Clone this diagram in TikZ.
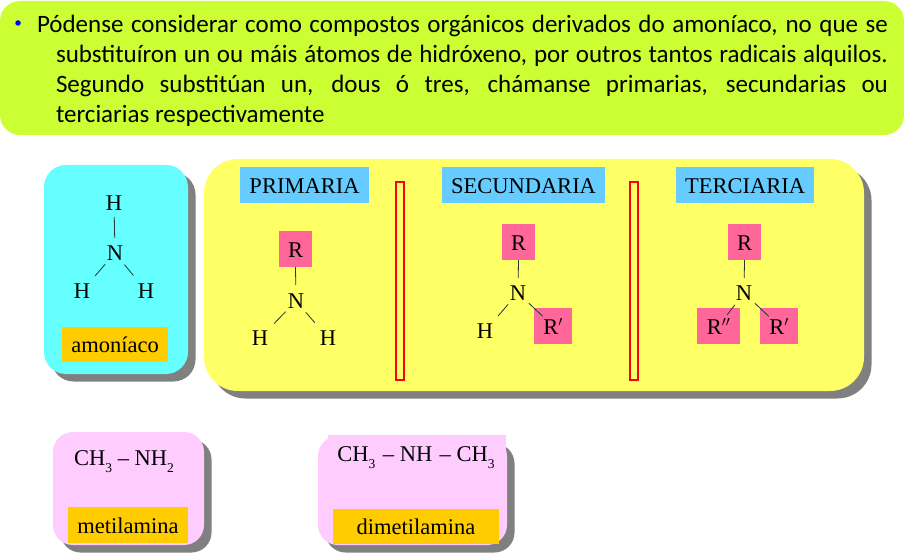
\documentclass[tikz,border=0pt]{standalone}
\usepackage{fontspec}
\setmainfont{Liberation Serif}
\newfontfamily\bodyfont{Carlito}
\usetikzlibrary{shadows}
\definecolor{limeC}{HTML}{CCFF33}
\definecolor{cyanC}{HTML}{66FFFF}
\definecolor{yellowC}{HTML}{FFFF66}
\definecolor{blueC}{HTML}{66CCFF}
\definecolor{pinkC}{HTML}{FF6699}
\definecolor{lilacC}{HTML}{FFCCFF}
\definecolor{orangeC}{HTML}{FFCC00}
\definecolor{shadowC}{HTML}{808080}
\definecolor{bondC}{HTML}{203838}
\newcommand{\subs}[1]{\raisebox{-0.32em}{\fontsize{13.5}{14}\selectfont #1}}
\tikzset{
  x=1pt,y=-1pt,
  every node/.style={inner sep=0pt,outer sep=0pt,font=\fontsize{22.5}{24}\selectfont},
  panel/.style={rectangle,fill=#1,general shadow={fill=shadowC,shadow xshift=7.5pt,shadow yshift=-7.5pt}},
  label/.style={rectangle,fill=#1,text height=16.5pt,text depth=0pt,align=center},
  atom/.style={text height=15pt,text depth=0pt},
  sepbar/.style={rectangle,draw=red,line width=2.5pt,fill=yellowC,minimum width=8pt,minimum height=198pt},
  bond/.style={draw=bondC,line width=0.8pt},
}
\begin{document}
\begin{tikzpicture}
\useasboundingbox (0,0) rectangle (904,553);
% intro panel
\node[rectangle,fill=limeC,rounded corners=20pt,minimum width=904pt,minimum height=134pt] (intro) at (452,68) {};
\node[anchor=north west,text width=832pt,align=justify,font=\bodyfont\fontsize{25}{30}\selectfont] (introtext) at (56,15.5)
 {\hspace*{-19pt}Pódense considerar como compostos orgánicos derivados do amoníaco, no que se\linebreak
  substituíron un ou máis átomos de hidróxeno, por outros tantos radicais alquilos.\linebreak
  Segundo substitúan un, dous ó tres, chámanse primarias, secundarias ou\linebreak
  terciarias respectivamente};
\node[circle,fill=blue,minimum size=5.5pt] (bullet) at (18,23) {};
% main panels
\node[panel=cyanC,rounded corners=22pt,minimum width=144pt,minimum height=209pt] (ammpanel) at (116,269.5) {};
\node[panel=yellowC,rounded corners=34pt,minimum width=660pt,minimum height=232pt] (mainpanel) at (534,275) {};
% separators
\node[sepbar] (bar1) at (400,281) {};
\node[sepbar] (bar2) at (634,281) {};
% headings
\node[label=blueC,minimum width=129pt,minimum height=36pt] (lprim) at (304.5,185) {PRIMARIA};
\node[label=blueC,minimum width=163pt,minimum height=36pt] (lsec) at (523.5,185) {SECUNDARIA};
\node[label=blueC,minimum width=138pt,minimum height=36pt] (lter) at (745,185) {TERCIARIA};
% ammonia
\node[atom] (aH1) at (114,203) {H};
\node[atom] (aN) at (115,253) {N};
\node[atom] (aH2) at (82,291) {H};
\node[atom] (aH3) at (146,291) {H};
\draw[bond,shorten <=15pt,shorten >=14pt] (aN.center) -- (aH1.center);
\draw[bond,shorten <=15pt,shorten >=20pt] (aN.center) -- (aH2.center);
\draw[bond,shorten <=15pt,shorten >=20pt] (aN.center) -- (aH3.center);
\node[label=orangeC,minimum width=106pt,minimum height=35pt] (lamm) at (115,344.5) {amoníaco};
% primary
\node[label=pinkC,minimum width=33pt,minimum height=36pt] (pR) at (295.5,249) {R};
\node[atom] (pN) at (296,301) {N};
\node[atom] (pH1) at (260,338) {H};
\node[atom] (pH2) at (328,338) {H};
\draw[bond,shorten >=16pt] (pR.south) -- (pN.center);
\draw[bond,shorten <=15pt,shorten >=20pt] (pN.center) -- (pH1.center);
\draw[bond,shorten <=15pt,shorten >=20pt] (pN.center) -- (pH2.center);
% secondary
\node[label=pinkC,minimum width=33pt,minimum height=36pt] (sR) at (518.5,242) {R};
\node[atom] (sN) at (518,293) {N};
\node[atom] (sH) at (485,331) {H};
\node[label=pinkC,minimum width=38pt,minimum height=36pt] (sR1) at (553,326) {R$'$};
\draw[bond,shorten >=15pt] (sR.south) -- (sN.center);
\draw[bond,shorten <=15pt,shorten >=20pt] (sN.center) -- (sH.center);
\draw[bond,shorten <=15pt,shorten >=14pt] (sN.center) -- (sR1.center);
% tertiary
\node[label=pinkC,minimum width=33pt,minimum height=36pt] (tR) at (744.5,242) {R};
\node[atom] (tN) at (744,293) {N};
\node[label=pinkC,minimum width=43pt,minimum height=36pt] (tR2) at (718.5,326) {R$''$};
\node[label=pinkC,minimum width=38pt,minimum height=36pt] (tR1) at (779,326) {R$'$};
\draw[bond,shorten >=15pt] (tR.south) -- (tN.center);
\draw[bond,shorten <=15pt,shorten >=14pt] (tN.center) -- (tR2.center);
\draw[bond,shorten <=15pt,shorten >=14pt] (tN.center) -- (tR1.center);
% bottom panels
\node[panel=lilacC,rounded corners=20pt,minimum width=151pt,minimum height=113pt] (mpanel) at (128.5,488.5) {};
\node[atom] (mform) at (124,458) {CH\subs{3} – NH\subs{2}};
\node[label=orangeC,minimum width=120pt,minimum height=36pt] (lmet) at (128,525) {metilamina};
\node[panel=lilacC,rounded corners=20pt,minimum width=189pt,minimum height=109pt] (dpanel) at (412.5,490.5) {};
\node[rectangle,fill=lilacC,minimum width=178pt,minimum height=36pt] (dtop) at (417,453) {};
\node[atom] (dform) at (416,454) {CH\subs{3}\,\,– NH\,\,– CH\subs{3}};
\node[label=orangeC,minimum width=166pt,minimum height=35pt] (ldim) at (416,526.5) {dimetilamina};
\end{tikzpicture}
\end{document}
